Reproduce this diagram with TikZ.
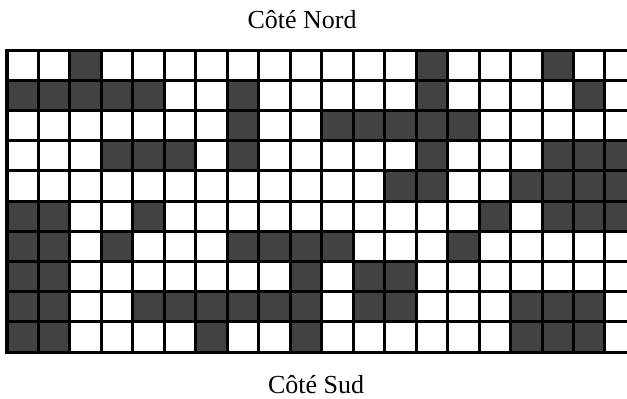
\documentclass[tikz,border=0pt]{standalone}
\usepackage{fontspec}
\setmainfont{Liberation Serif}
\definecolor{celldk}{HTML}{424242}

\begin{document}
\begin{tikzpicture}[
  x=0.8cm, y=0.768cm,
  cell/.style={fill=celldk},
  gridline/.style={draw=black, line width=2.2pt},
  side/.style={font=\fontsize{18.8}{22}\selectfont, anchor=base, text=black},
]

% Frame (the last column is cut off on the right)
\clip (-0.222,-1.523) rectangle (19.70,11.656);

% Dark cells, row by row from the top
\foreach \r/\cols in {0/{2,13,17},
                      1/{0,1,2,3,4,7,13,18},
                      2/{7,10,11,12,13,14},
                      3/{3,4,5,7,13,17,18,19},
                      4/{12,13,16,17,18,19},
                      5/{0,1,4,15,17,18,19},
                      6/{0,1,3,7,8,9,10,14},
                      7/{0,1,9,11,12},
                      8/{0,1,4,5,6,7,8,9,11,12,16,17,18},
                      9/{0,1,6,9,16,17,18}}
  \foreach \c in \cols
    \fill[cell] (\c,9-\r) rectangle ++(1,1);

% Grid
\foreach \c in {1,...,19}
  \draw[gridline] (\c,0) -- (\c,10);
\foreach \r in {1,...,9}
  \draw[gridline] (0,\r) -- (20,\r);
\draw[gridline] (0,0) rectangle (20,10);

% Sides
\node[side] (nord) at (9.374,10.728) {Côté Nord};
\node[side] (sud) at (9.82,-1.358) {Côté Sud};

\end{tikzpicture}
\end{document}
